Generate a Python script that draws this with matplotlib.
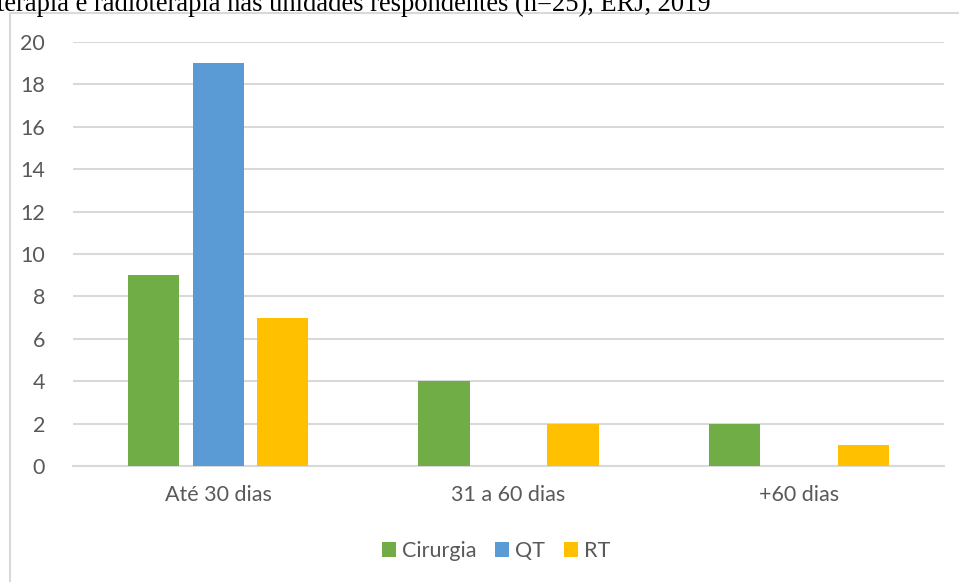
import matplotlib
matplotlib.use("Agg")
import matplotlib.pyplot as plt
from matplotlib.patches import Rectangle
import numpy as np

categories = ["Até 30 dias", "31 a 60 dias", "+60 dias"]
series_names = ["Cirurgia", "QT", "RT"]
cirurgia = [9, 4, 2]
qt = [19, 0, 0]
rt = [7, 2, 1]
y_ticks = [0, 2, 4, 6, 8, 10, 12, 14, 16, 18, 20]
title_text = "terapia e radioterapia nas unidades respondentes (n=25), ERJ, 2019"

colors = ["#70AD47", "#5B9BD5", "#FFC000"]
grid_color = "#D9D9D9"
text_color = "#595959"

W, H = 959, 582
fig = plt.figure(figsize=(W / 100, H / 100), dpi=100)
plt.rcParams["font.family"] = ["Lato", "DejaVu Sans"]

# chart frame
fig.patches.append(Rectangle((10 / W, -0.1), (W + 20) / W, (H - 13) / H + 0.1,
                             transform=fig.transFigure, fill=False,
                             edgecolor=grid_color, linewidth=1.5, clip_on=False))

# caption line above the chart
fig.text(-3 / W, 1 - 11 / H, title_text, family="Liberation Serif",
         fontsize=19.1, color="black", ha="left", va="baseline")

left, right = 73 / W, 944 / W
bottom, top = 1 - 466 / H, 1 - 42 / H
ax = fig.add_axes([left, bottom, right - left, top - bottom])

x = np.arange(len(categories))
width = 0.176
offset = 0.222
for i, (vals, name) in enumerate(zip([cirurgia, qt, rt], series_names)):
    ax.bar(x + (i - 1) * offset, vals, width=width, color=colors[i], label=name, zorder=3)

ax.set_xlim(-0.5, 2.5)
ax.set_ylim(0, 20)
ax.set_yticks(y_ticks)
ax.set_xticks(x)
ax.set_xticklabels(categories)
ax.yaxis.grid(True, color=grid_color, linewidth=1.5, zorder=0)
for s in ["top", "right", "left"]:
    ax.spines[s].set_visible(False)
ax.spines["bottom"].set_color(grid_color)
ax.spines["bottom"].set_linewidth(1.5)
ax.tick_params(axis="both", length=0, labelsize=15.5, labelcolor=text_color)
ax.tick_params(axis="y", pad=20)
ax.tick_params(axis="x", pad=14)

handles, labels = ax.get_legend_handles_labels()
fig.legend(handles, labels, loc="center", bbox_to_anchor=(496 / W, 1 - 551 / H),
           ncol=3, frameon=False, fontsize=15.5, labelcolor=text_color,
           handlelength=0.65, handleheight=0.65, handletextpad=0.3, columnspacing=0.85)

fig.savefig("out.png", dpi=100)
